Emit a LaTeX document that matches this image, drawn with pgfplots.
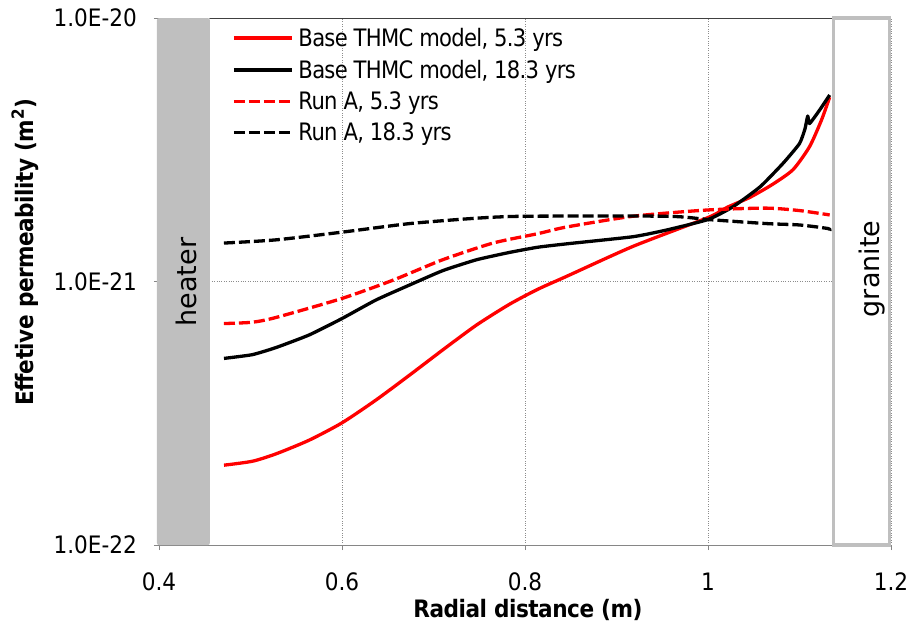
\documentclass[border=0pt]{standalone}
\usepackage{fontspec}
\setmainfont{DejaVu Sans}
\newfontfamily\tickfont[FakeStretch=0.9]{DejaVu Sans}
\newfontfamily\legfont[FakeStretch=0.88,LetterSpace=-3]{DejaVu Sans}
\newfontfamily\labfont[FakeStretch=0.9,LetterSpace=-2]{DejaVu Sans}
\usepackage{pgfplots}
\pgfplotsset{compat=1.18}
\definecolor{excelgray}{RGB}{134,134,134}
\definecolor{shapegray}{RGB}{191,191,191}
\definecolor{gridgray}{RGB}{140,140,140}
\pgfplotsset{legend image code/.code={\draw[#1] (0pt,0pt) -- (58pt,0pt);}}
\begin{document}
\begin{tikzpicture}
\useasboundingbox (-159pt,-81pt) rectangle (754pt,545pt);
\begin{axis}[
  at={(0pt,0pt)}, anchor=south west,
  scale only axis, width=732pt, height=527pt,
  xmin=0.4, xmax=1.2, ymode=log, ymin=1e-22, ymax=1e-20,
  xtick={0.4,0.6,0.8,1.0,1.2}, xticklabels={0.4,0.6,0.8,1,1.2},
  ytick={1e-22,1e-21,1e-20}, yticklabels={1.0E-22,1.0E-21,1.0E-20},
  yminorticks=false,
  axis x line*=bottom, axis y line*=left,
  axis line style={excelgray, line width=0.8pt, -},
  tick align=outside, major tick length=5pt,
  tick style={excelgray, line width=0.8pt},
  grid=major, major grid style={gridgray, dotted, line width=0.6pt},
  tick label style={font=\tickfont\fontsize{24}{28}\selectfont},
  xticklabel style={anchor=base, yshift=-40pt, inner sep=0pt},
  yticklabel style={anchor=east, inner sep=0pt, xshift=-17pt},
  clip=false,
  legend style={at={(rel axis cs:0,1)}, anchor=north west, xshift=70pt, yshift=-6pt,
    draw=none, fill=none, row sep=8pt,
    nodes={inner xsep=5pt},
    font=\legfont\fontsize{24}{28}\selectfont},
  legend cell align=left,
]
\addplot[red, line width=3.3pt, line join=round, smooth, tension=0.4] coordinates {
(0.471,2.01e-22) (0.502,2.08e-22) (0.528,2.22e-22) (0.564,2.50e-22) (0.600,2.91e-22)
(0.637,3.55e-22) (0.674,4.42e-22) (0.710,5.50e-22) (0.747,6.84e-22) (0.783,8.20e-22)
(0.814,9.35e-22) (0.845,1.045e-21) (0.918,1.36e-21) (1.000,1.75e-21) (1.021,1.914e-21)
(1.046,2.089e-21) (1.071,2.344e-21) (1.093,2.661e-21) (1.111,3.251e-21) (1.124,4.10e-21)
(1.133,5.01e-21)};
\addlegendentry{Base THMC model, 5.3 yrs}
\addplot[black, line width=3.3pt, line join=round, smooth, tension=0.3] coordinates {
(0.471,5.11e-22) (0.502,5.28e-22) (0.528,5.62e-22) (0.564,6.27e-22) (0.600,7.24e-22)
(0.637,8.51e-22) (0.674,9.71e-22) (0.710,1.10e-21) (0.747,1.21e-21) (0.783,1.29e-21)
(0.814,1.35e-21) (0.845,1.39e-21) (0.918,1.48e-21) (0.955,1.57e-21) (1.000,1.72e-21)
(1.027,1.92e-21) (1.057,2.29e-21) (1.082,2.81e-21) (1.100,3.34e-21) (1.106,3.80e-21)
(1.109,4.25e-21) (1.111,3.98e-21) (1.122,4.477e-21) (1.133,5.105e-21)};
\addlegendentry{Base THMC model, 18.3 yrs}
\addplot[red, line width=3.3pt, line join=round, dash pattern=on 11pt off 4pt, smooth, tension=0.4] coordinates {
(0.471,6.93e-22) (0.502,7.01e-22) (0.528,7.31e-22) (0.600,8.63e-22) (0.655,1.01e-21)
(0.710,1.21e-21) (0.765,1.40e-21) (0.814,1.52e-21) (0.845,1.61e-21) (0.918,1.77e-21)
(1.000,1.87e-21) (1.064,1.90e-21) (1.100,1.86e-21) (1.133,1.79e-21)};
\addlegendentry{Run A, 5.3 yrs}
\addplot[black, line width=3.3pt, line join=round, dash pattern=on 11pt off 4pt, smooth, tension=0.4] coordinates {
(0.471,1.40e-21) (0.528,1.44e-21) (0.600,1.54e-21) (0.674,1.66e-21) (0.747,1.74e-21)
(0.800,1.77e-21) (0.955,1.77e-21) (1.000,1.72e-21) (1.064,1.66e-21) (1.100,1.64e-21)
(1.131,1.59e-21) (1.133,1.56e-21)};
\addlegendentry{Run A, 18.3 yrs}
\fill[shapegray, rounded corners=2pt] (axis cs:0.3978,1e-22) rectangle (axis cs:0.4555,1e-20);
\draw[shapegray, line width=3.3pt, fill=white] (axis cs:1.1375,1e-22) rectangle (axis cs:1.1985,1e-20);
\draw[black!75, line width=0.8pt] (axis cs:0.4555,1e-20) -- (axis cs:1.1355,1e-20);
\node[rotate=90, font=\fontsize{27}{30}\selectfont] at (rel axis cs:0.0369,0.499) {heater};
\node[rotate=90, font=\fontsize{27}{30}\selectfont] at (rel axis cs:0.974,0.524) {granite};
\node[anchor=base, font=\labfont\bfseries\fontsize{24}{28}\selectfont] at (rel axis cs:0.504,-0.1366) {Radial distance (m)};
\node[anchor=base, rotate=90, font=\labfont\bfseries\fontsize{24}{28}\selectfont] at (rel axis cs:-0.1721,0.556) {Effetive permeability (m\textsuperscript{2})};
\end{axis}
\end{tikzpicture}
\end{document}
